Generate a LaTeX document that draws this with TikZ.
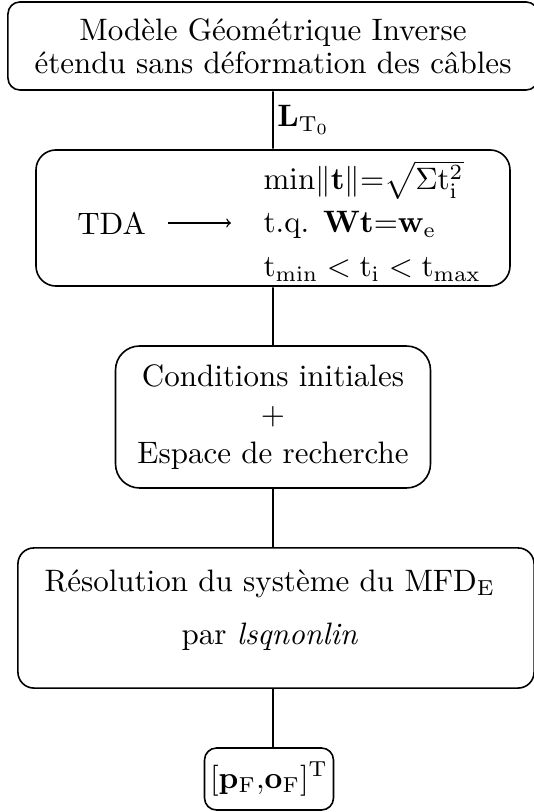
\documentclass[tikz,border=0pt]{standalone}
\usepackage{amsmath}
\usepackage{amssymb}
\usepackage{tikz}

\tikzset{
  bloc/.style={draw, line width=0.8pt, rounded corners=8pt, align=center, inner sep=0pt, scale=1.55},
  texte/.style={inner sep=0pt, scale=1.55},
  ligne/.style={texte, anchor=base west},
}

\begin{document}
\begin{tikzpicture}[x=0.5pt,y=-0.5pt]
    \useasboundingbox (0,0) rectangle (534,812);
    \node[bloc, rounded corners=6pt, minimum width=171pt, minimum height=28.4pt] (mgi) at (273,46)
        {Modèle Géométrique Inverse\\[-1.4pt]étendu sans déformation des câbles};
    \node[bloc, rounded corners=10pt, minimum width=152.9pt, minimum height=43.9pt] (tdabox) at (273,218) {};
    \node[texte] (tda) at (111.5,223) {TDA};
    \node[ligne] (l1) at (263,190) {$\mathrm{min}\|\mathbf{t}\|{=}\sqrt{\Sigma\mathrm{t}_\mathrm{i}^2}$};
    \node[ligne] (l2) at (263,233) {t.q. $\mathbf{Wt}{=}\mathbf{w}_\mathrm{e}$};
    \node[ligne] (l3) at (263,277) {$\mathrm{t}_\mathrm{min} < \mathrm{t}_\mathrm{i} < \mathrm{t}_\mathrm{max}$};
    \node[bloc, rounded corners=12pt, minimum width=101.6pt, minimum height=45.8pt] (cond) at (273,417)
        {Conditions initiales\\[0.3pt]$+$\\[0.3pt]Espace de recherche};
    \node[bloc, minimum width=166.5pt, minimum height=45.2pt] (reso) at (276,618)
        {Résolution du système du MFD$_\mathrm{E}$\hspace*{4pt}\\[5.1pt]par \emph{lsqnonlin}\hspace*{4pt}\rule[-7.1pt]{0pt}{7.1pt}};
    \node[bloc, rounded corners=6pt, minimum width=41.6pt, minimum height=20pt] (res) at (269,779)
        {$[\mathbf{p}_\mathrm{F}{,}\mathbf{o}_\mathrm{F}]^\mathrm{T}$};
    \draw[line width=0.8pt] (mgi) -- node[texte, right, inner sep=1pt] {$\mathbf{L}_{\mathrm{T}_0}$} (tdabox);
    \draw[->, line width=0.7pt, shorten <=11pt, shorten >=16pt] (tda.east) -- (tda.east -| l2.west);
    \draw[line width=0.8pt] (tdabox) -- (cond);
    \draw[line width=0.8pt] (cond.south) -- (cond.south |- reso.north);
    \draw[line width=0.8pt] (cond.south |- reso.south) -- (cond.south |- res.north);
\end{tikzpicture}
\end{document}
